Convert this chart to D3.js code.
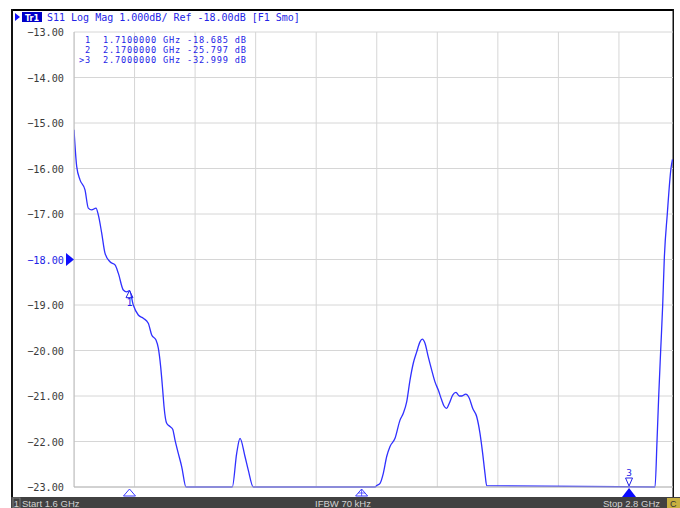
<!DOCTYPE html>
<html><head><meta charset="utf-8">
<script src="https://cdn.jsdelivr.net/npm/d3@7"></script>
<style>
html,body{margin:0;padding:0;background:#fff;}
svg{display:block;}
text{white-space:pre;}
</style></head>
<body><svg id="c" width="680" height="508"></svg>
<script>
// ---- data ----
const freqGHz = [1.6000,1.6054,1.6119,1.6218,1.6283,1.6351,1.6436,1.6482,1.6549,1.6614,1.6713,1.6813,1.6878,1.6977,1.7044,1.7100,1.7175,1.7274,1.7373,1.7472,1.7540,1.7625,1.7671,1.7718,1.7758,1.7784,1.7837,1.7902,1.7956,1.8002,1.8067,1.8134,1.8220,
  1.9137,1.9224,1.9290,1.9389,1.9454,1.9553,
  2.1965,2.1999,2.2065,2.2130,2.2197,2.2263,2.2362,2.2461,2.2526,2.2593,2.2659,2.2724,2.2792,2.2857,2.2903,2.2956,2.3021,2.3089,2.3154,2.3220,2.3287,2.3333,2.3386,2.3438,2.3505,2.3570,2.3636,2.3689,2.3762,2.3834,2.3901,2.3980,2.4046,2.4099,2.4145,2.4179,
  2.7515,2.7554,2.7588,2.7627,2.7667,2.7698,2.7758,2.7831,2.7861];
const s11dB = [-15.15,-15.96,-16.25,-16.47,-16.87,-16.91,-16.87,-17.02,-17.42,-17.86,-18.05,-18.12,-18.30,-18.67,-18.71,-18.685,-19.00,-19.22,-19.29,-19.40,-19.66,-19.77,-19.95,-20.36,-20.87,-21.23,-21.60,-21.67,-21.73,-21.97,-22.26,-22.55,-23.00,
  -23.00,-22.26,-21.93,-22.33,-22.63,-23.00,
  -23.00,-22.97,-22.92,-22.70,-22.33,-22.11,-21.93,-21.53,-21.38,-21.13,-20.65,-20.28,-20.03,-19.81,-19.75,-19.84,-20.14,-20.43,-20.69,-20.87,-21.09,-21.22,-21.27,-21.16,-20.98,-20.92,-21.00,-21.00,-20.96,-21.05,-21.27,-21.45,-21.82,-22.26,-22.70,-22.97,
  -23.00,-22.00,-21.00,-20.00,-19.00,-18.00,-17.00,-16.00,-15.80];
const yTicks = [-13,-14,-15,-16,-17,-18,-19,-20,-21,-22,-23];
const markerIds = ["1","2","3"];
const markerFreq = [1.71, 2.17, 2.70];
const markerVal = [-18.685, -25.797, -32.999];
const headerText = "S11 Log Mag 1.000dB/ Ref -18.00dB [F1 Smo]";
const statusStart = "Start 1.6 GHz", statusMid = "IFBW 70 kHz", statusStop = "Stop 2.8 GHz";

// ---- layout ----
const svg = d3.select("#c");
const L = 74, R = 679.5, T = 32, B = 487, clipR = 673;
const x = d3.scaleLinear().domain([1.6, 2.8]).range([L, R]);
const y = d3.scaleLinear().domain([-23, -13]).range([B, T]).clamp(true);
const blue = "#2323e6", trace = "#3030ff", mono = "DejaVu Sans Mono";

svg.append("defs").append("clipPath").attr("id","pc")
  .append("rect").attr("x",L).attr("y",T-1).attr("width",clipR-L).attr("height",B-T+2);

// frame
svg.append("rect").attr("x",11).attr("y",9).attr("width",663).attr("height",2).attr("fill","#000");
svg.append("rect").attr("x",11).attr("y",9).attr("width",2).attr("height",490).attr("fill","#111");
svg.append("rect").attr("x",672.5).attr("y",9).attr("width",1.5).attr("height",490).attr("fill","#111");

// grid
const g = svg.append("g").attr("clip-path","url(#pc)");
const xTicks = d3.range(0, 11).map(i => 1.6 + i * 0.12);
g.selectAll(".vg").data(xTicks).join("line")
  .attr("x1",d=>x(d)).attr("x2",d=>x(d)).attr("y1",T).attr("y2",B)
  .attr("stroke","#d6d6d6").attr("stroke-width",1);
g.selectAll(".hg").data(yTicks).join("line")
  .attr("x1",L).attr("x2",clipR).attr("y1",d=>y(d)).attr("y2",d=>y(d))
  .attr("stroke","#d6d6d6").attr("stroke-width",1);
svg.append("line").attr("x1",L).attr("x2",L).attr("y1",T).attr("y2",B).attr("stroke","#b8b8b8");
svg.append("line").attr("x1",L).attr("x2",clipR).attr("y1",B).attr("y2",B).attr("stroke","#b8b8b8");

// y labels
const yAxis = d3.axisLeft(y).tickValues(yTicks).tickFormat(d3.format(".2f")).tickSize(0).tickPadding(10);
const ya = svg.append("g").attr("transform",`translate(${L},0)`).call(yAxis);
ya.select(".domain").remove();
ya.selectAll("text").attr("font-family",mono).attr("font-size",10.2)
  .attr("fill",d=>d===-18?blue:"#3a3a3a").attr("dy","0.35em");
// reference level arrow
svg.append("path").attr("d",`M${L-8},${y(-18)-6.5}L${L},${y(-18)}L${L-8},${y(-18)+6.5}Z`).attr("fill","#1010ff");

// header
svg.append("path").attr("d","M15,13L20,17L15,21Z").attr("fill","#1010ff");
svg.append("rect").attr("x",22).attr("y",12).attr("width",20).attr("height",10).attr("fill","#0000c8");
svg.append("text").attr("x",32).attr("y",20.5).attr("text-anchor","middle").attr("font-family","DejaVu Sans")
  .attr("font-size",8).attr("font-weight","bold").attr("fill","#fff").text("Tr1");
svg.append("text").attr("x",47).attr("y",21).attr("font-family",mono).attr("font-size",10)
  .attr("fill",blue).text(headerText);

// marker table
const rows = markerIds.map((id,i)=>(i===2?">":" ")+id+"  "+markerFreq[i].toFixed(7)+" GHz "+markerVal[i].toFixed(3)+" dB");
svg.selectAll(".mt").data(rows).join("text").attr("x",79).attr("y",(d,i)=>43+i*10)
  .attr("font-family",mono).attr("font-size",8.6).attr("letter-spacing",0.82)
  .attr("fill",blue).text(d=>d);

// trace
const pts = freqGHz.map((f,i)=>[f, s11dB[i]]);
g.append("path").datum(pts)
  .attr("d", d3.line().x(d=>x(d[0])).y(d=>y(d[1])).curve(d3.curveMonotoneX))
  .attr("fill","none").attr("stroke",trace).attr("stroke-width",1.3);

// on-trace marker 1
const m1x = x(markerFreq[0]), m1y = y(markerVal[0]);
svg.append("path").attr("d",`M${m1x},${m1y}L${m1x-3.5},${m1y+7}L${m1x+3.5},${m1y+7}Z`)
  .attr("fill","none").attr("stroke",blue).attr("stroke-width",1);
svg.append("text").attr("x",m1x).attr("y",m1y+15).attr("text-anchor","middle").attr("font-family",mono)
  .attr("font-size",10).attr("fill",blue).text(markerIds[0]);

// bottom marker indicators
[0,1].forEach(i=>{
  const mx = x(markerFreq[i]);
  svg.append("path").attr("d",`M${mx},${B+2}L${mx-6},${B+9}L${mx+6},${B+9}Z`)
    .attr("fill","#fff").attr("stroke","#3a3aff").attr("stroke-width",1);
  if (i===1) svg.append("path").attr("d",`M${mx-3.5},${B+6}L${mx+3.5},${B+6}M${mx},${B+2}L${mx},${B+9}`)
    .attr("stroke","#3a3aff").attr("stroke-width",0.8);
});
const m3x = x(markerFreq[2]);
svg.append("path").attr("d",`M${m3x},${B+1}L${m3x-7},${B+10}L${m3x+7},${B+10}Z`).attr("fill","#0a0aff");
svg.append("path").attr("d",`M${m3x-3.5},${B-9}L${m3x+3.5},${B-9}L${m3x},${B-1}Z`)
  .attr("fill","#fff").attr("stroke",blue).attr("stroke-width",1);
svg.append("text").attr("x",m3x).attr("y",B-11).attr("text-anchor","middle").attr("font-family",mono)
  .attr("font-size",9.5).attr("fill",blue).text(markerIds[2]);

// status bar
svg.append("rect").attr("x",11).attr("y",497).attr("width",669).attr("height",11).attr("fill","#414141");
svg.append("rect").attr("x",13).attr("y",498).attr("width",7).attr("height",10).attr("fill","none").attr("stroke","#888").attr("stroke-width",0.8);
const st = {"font-family":"Liberation Sans","font-size":9.5,"fill":"#d2d2d2"};
function stText(xp, t, anchor){ const e = svg.append("text").attr("x",xp).attr("y",507).attr("text-anchor",anchor).text(t); Object.entries(st).forEach(([k,v])=>e.attr(k,v)); }
stText(16.5,"1","middle");
stText(22,statusStart,"start");
stText(343,statusMid,"middle");
stText(660,statusStop,"end");
svg.append("rect").attr("x",667).attr("y",498).attr("width",13).attr("height",10).attr("fill","#c8b040");
svg.append("text").attr("x",670).attr("y",507).attr("font-family","Liberation Sans").attr("font-size",9).attr("fill","#333").text("C");
</script></body></html>
